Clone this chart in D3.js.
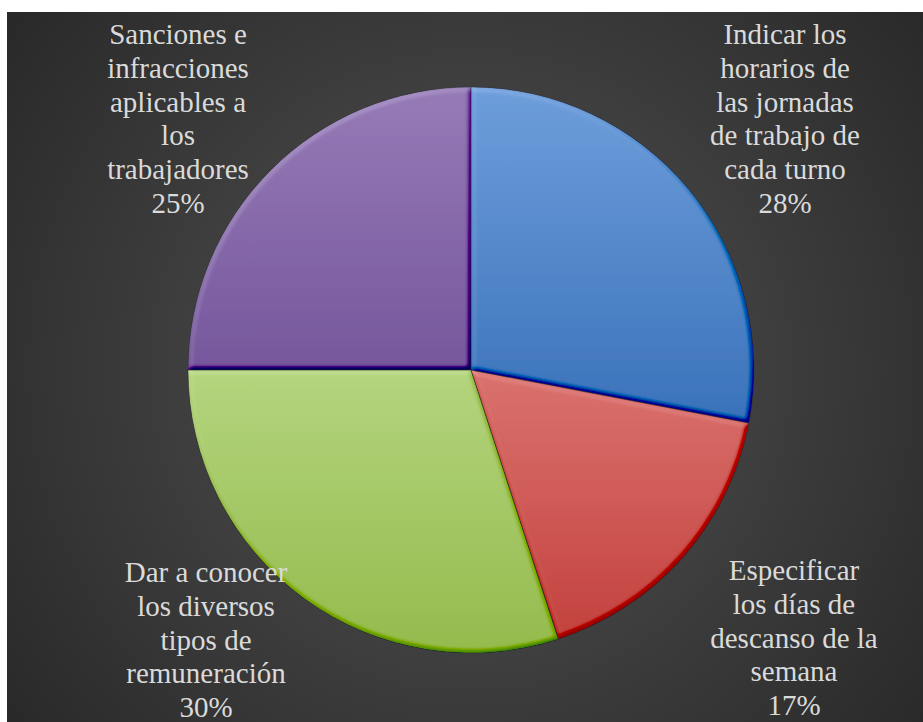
<!DOCTYPE html>
<html>
<head>
<meta charset="utf-8">
<script src="https://cdn.jsdelivr.net/npm/d3@7/dist/d3.min.js"></script>
</head>
<body style="margin:0; background:#ffffff">
<script>
// Categories (line breaks follow the wrapped labels), their shares, and fills
const categories = [
  "Indicar los\nhorarios de\nlas jornadas\nde trabajo de\ncada turno",
  "Especificar\nlos días de\ndescanso de la\nsemana",
  "Dar a conocer\nlos diversos\ntipos de\nremuneración",
  "Sanciones e\ninfracciones\naplicables a\nlos\ntrabajadores"
];
const values = [28, 17, 30, 25];
const colorsTop = ["#6e9edb", "#da726e", "#b4d47e", "#967bb7"];
const colorsBottom = ["#3a72ba", "#c3423e", "#94bb4d", "#76579c"];

// Layout
const W = 923, H = 722;
const cx = 471, cy = 370, R = 283;
const fontSize = 29, lineH = 33.8;
// Label block anchors: centre x, first baseline y
const labelAnchors = [[785, 44], [794, 580], [206, 582], [178, 44]];

const svg = d3.select("body").append("svg")
  .attr("width", W).attr("height", H)
  .style("display", "block");
const defs = svg.append("defs");

// Dark radial backdrop
const bg = defs.append("radialGradient").attr("id", "bgGrad")
  .attr("gradientUnits", "userSpaceOnUse")
  .attr("cx", cx).attr("cy", cy).attr("r", 620);
bg.append("stop").attr("offset", 0).attr("stop-color", "#4c4c4c");
bg.append("stop").attr("offset", 0.45).attr("stop-color", "#3f3f3f");
bg.append("stop").attr("offset", 1).attr("stop-color", "#262626");

svg.append("rect")
  .attr("x", 7).attr("y", 12)
  .attr("width", W - 7).attr("height", H - 12)
  .attr("fill", "url(#bgGrad)");

// Vertical gradient per slice
values.forEach((v, i) => {
  const g = defs.append("linearGradient").attr("id", "slice" + i)
    .attr("x1", 0).attr("y1", 0).attr("x2", 0).attr("y2", 1);
  g.append("stop").attr("offset", 0).attr("stop-color", colorsTop[i]);
  g.append("stop").attr("offset", 1).attr("stop-color", colorsBottom[i]);
});

// Bevel: lighting on the blurred alpha edge, added onto the fill
const f = defs.append("filter").attr("id", "bevel")
  .attr("x", "-5%").attr("y", "-5%").attr("width", "110%").attr("height", "110%");
f.append("feGaussianBlur").attr("in", "SourceAlpha").attr("stdDeviation", 2.5).attr("result", "blur");
const light = f.append("feDiffuseLighting").attr("in", "blur")
  .attr("surfaceScale", 4).attr("diffuseConstant", 1)
  .attr("lighting-color", "#ffffff").attr("result", "lit");
light.append("feDistantLight").attr("azimuth", 235).attr("elevation", 50);
f.append("feComposite").attr("in", "SourceGraphic").attr("in2", "lit")
  .attr("operator", "arithmetic")
  .attr("k1", 0).attr("k2", 1).attr("k3", 0.35).attr("k4", -0.35 * Math.sin(50 * Math.PI / 180))
  .attr("result", "shaded");
f.append("feComposite").attr("in", "shaded").attr("in2", "SourceAlpha").attr("operator", "in");

const pie = d3.pie().sort(null).value(d => d);
const arcs = pie(values);
const arc = d3.arc().innerRadius(0).outerRadius(R);

const g = svg.append("g").attr("transform", `translate(${cx},${cy})`);
g.selectAll("path.slice")
  .data(arcs)
  .join("path")
  .attr("class", "slice")
  .attr("d", arc)
  .attr("fill", (d, i) => `url(#slice${i})`)
  .attr("filter", "url(#bevel)");

// Thin dark seams between slices
g.selectAll("path.seam")
  .data(arcs)
  .join("path")
  .attr("class", "seam")
  .attr("d", arc)
  .attr("fill", "none")
  .attr("stroke", "rgba(30,30,40,0.4)")
  .attr("stroke-width", 0.8)
  .attr("stroke-linejoin", "round");

// Data labels: one text element per wrapped line
const total = d3.sum(values);
const fmt = d3.format(".0%");

categories.forEach((c, i) => {
  const lines = c.split("\n").concat(fmt(values[i] / total));
  const [lx, ly] = labelAnchors[i];
  lines.forEach((ln, j) => {
    svg.append("text")
      .attr("x", lx).attr("y", ly + j * lineH)
      .attr("text-anchor", "middle")
      .attr("fill", "#dadada")
      .style("font-family", "Liberation Serif")
      .style("font-size", fontSize + "px")
      .text(ln);
  });
});
</script>
</body>
</html>
